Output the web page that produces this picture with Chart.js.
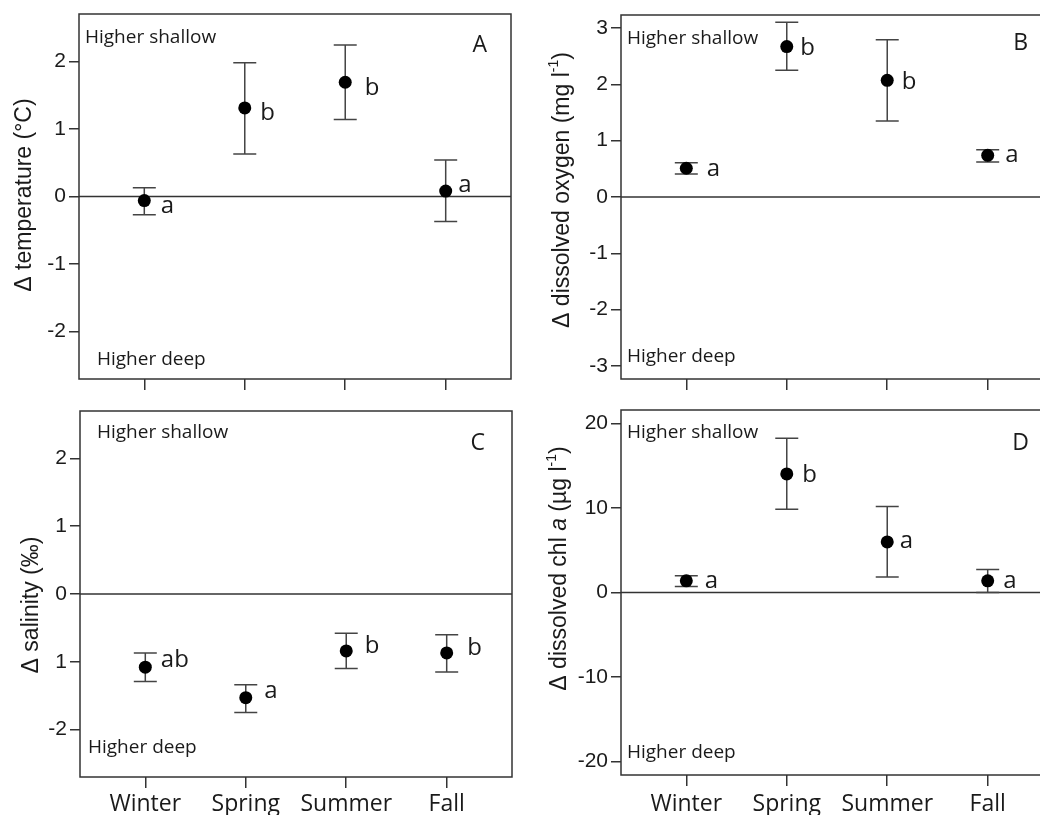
<!DOCTYPE html>
<html><head><meta charset="utf-8">
<script src="https://cdn.jsdelivr.net/npm/chart.js@4.4.1/dist/chart.umd.min.js"></script>
<style>
html,body{margin:0;padding:0;background:#fff;overflow:hidden;width:1040px;height:815px;}
#wrap{position:relative;width:1040px;height:815px;overflow:hidden;background:#fff;}
canvas{position:absolute;}
</style></head><body><div id="wrap">
<canvas id="cA" width="520" height="415" style="left:0;top:-10px"></canvas>
<canvas id="cB" width="540" height="415" style="left:520px;top:-10px"></canvas>
<canvas id="cC" width="520" height="450" style="left:0;top:385px"></canvas>
<canvas id="cD" width="540" height="450" style="left:520px;top:385px"></canvas>
</div>
<script>
// ---- data ----
const categories = ['Winter', 'Spring', 'Summer', 'Fall'];

const tempMean = [-0.06, 1.31, 1.69, 0.08];
const tempLow  = [-0.27, 0.63, 1.14, -0.37];
const tempHigh = [0.13, 1.98, 2.24, 0.54];
const tempLetters = ['a', 'b', 'b', 'a'];
const tempTicks = [-2, -1, 0, 1, 2];
const tempTickLabels = ['-2', '-1', '0', '1', '2'];

const oxyMean = [0.51, 2.67, 2.07, 0.74];
const oxyLow  = [0.41, 2.25, 1.35, 0.62];
const oxyHigh = [0.61, 3.10, 2.79, 0.84];
const oxyLetters = ['a', 'b', 'b', 'a'];
const oxyTicks = [-3, -2, -1, 0, 1, 2, 3];
const oxyTickLabels = ['-3', '-2', '-1', '0', '1', '2', '3'];

const salMean = [-1.08, -1.53, -0.84, -0.87];
const salLow  = [-1.29, -1.75, -1.10, -1.15];
const salHigh = [-0.87, -1.34, -0.58, -0.60];
const salLetters = ['ab', 'a', 'b', 'b'];
const salTicks = [-2, -1, 0, 1, 2];
const salTickLabels = ['-2', '1', '0', '1', '2'];

const chlMean = [1.38, 14.03, 5.99, 1.38];
const chlLow  = [0.71, 9.86, 1.82, 0.00];
const chlHigh = [1.97, 18.25, 10.17, 2.72];
const chlLetters = ['a', 'b', 'a', 'a'];
const chlTicks = [-20, -10, 0, 10, 20];
const chlTickLabels = ['-20', '-10', '0', '10', '20'];

const shallowText = 'Higher shallow';
const deepText = 'Higher deep';

// ---- drawing helpers ----
const INK = '#1a1a1a';
const LINE = '#333';
function segFont(s){ return (s.it ? 'italic ' : '') + (s.sup ? '14px' : '23px') + ' "Liberation Sans", Arial, sans-serif'; }
function drawTitle(ctx, segs, cx, cy){
  ctx.save();
  ctx.translate(cx, cy);
  ctx.rotate(-Math.PI / 2);
  let total = 0;
  const ws = segs.map(s => { ctx.font = segFont(s); const w = ctx.measureText(s.t).width; total += w; return w; });
  let xx = -total / 2;
  ctx.textBaseline = 'middle'; ctx.textAlign = 'left'; ctx.fillStyle = INK;
  segs.forEach((s, i) => { ctx.font = segFont(s); ctx.fillText(s.t, xx, s.sup ? -8 : 0); xx += ws[i]; });
  ctx.restore();
}

function makeDeco(cfg){
  return {
    id: 'deco' + cfg.id,
    beforeDatasetsDraw(chart){
      const {ctx, chartArea: a, scales: {x, y}} = chart;
      ctx.save();
      const y0 = y.getPixelForValue(0);
      ctx.strokeStyle = LINE; ctx.lineWidth = 1.5;
      ctx.beginPath(); ctx.moveTo(a.left, y0); ctx.lineTo(a.right, y0); ctx.stroke();
      ctx.strokeStyle = '#444'; ctx.lineWidth = 1.5;
      cfg.low.forEach((lo, i) => {
        const px = x.getPixelForValue(i + 1);
        const pl = y.getPixelForValue(lo), ph = y.getPixelForValue(cfg.high[i]);
        ctx.beginPath();
        ctx.moveTo(px, pl); ctx.lineTo(px, ph);
        ctx.moveTo(px - 11.5, pl); ctx.lineTo(px + 11.5, pl);
        ctx.moveTo(px - 11.5, ph); ctx.lineTo(px + 11.5, ph);
        ctx.stroke();
      });
      ctx.restore();
    },
    afterDraw(chart){
      const {ctx, chartArea: a, scales: {x, y}} = chart;
      ctx.save();
      ctx.strokeStyle = LINE; ctx.lineWidth = 1.5;
      ctx.strokeRect(a.left, a.top, a.right - a.left, a.bottom - a.top);
      ctx.fillStyle = INK;
      ctx.textBaseline = 'alphabetic';
      ctx.textAlign = 'left';
      ctx.font = '19px "Open Sans", sans-serif';
      ctx.fillText(shallowText, a.left + cfg.hs[0], a.top + cfg.hs[1]);
      ctx.fillText(deepText, a.left + cfg.hd[0], a.bottom - cfg.hd[1]);
      ctx.font = '23px "Open Sans", sans-serif';
      ctx.textAlign = 'right';
      ctx.fillText(cfg.panel, a.right - cfg.pl[0], a.top + cfg.pl[1]);
      ctx.textAlign = 'left';
      ctx.font = '24px "Open Sans", sans-serif';
      cfg.letters.forEach((t, i) => {
        const px = x.getPixelForValue(i + 1), py = y.getPixelForValue(cfg.mean[i]);
        ctx.fillText(t, px + cfg.ldx[i] - 1.5, py + cfg.ldy[i]);
      });
      ctx.restore();
      drawTitle(ctx, cfg.title, cfg.tc[0], cfg.tc[1]);
    }
  };
}

function makePanel(cfg){
  const el = document.getElementById(cfg.id);
  const pts = cfg.mean.map((m, i) => ({x: i + 1, y: m}));
  new Chart(el, {
    type: 'scatter',
    data: {datasets: [{data: pts, pointRadius: 6.5, pointHoverRadius: 6.5, pointBackgroundColor: '#000', pointBorderColor: '#000', pointBorderWidth: 0}]},
    options: {
      responsive: false, animation: false, devicePixelRatio: 1, events: [],
      layout: {padding: {top: cfg.padTop, right: cfg.padRight, left: 0, bottom: 0}},
      plugins: {legend: {display: false}, tooltip: {enabled: false}},
      scales: {
        x: {
          type: 'linear', min: 0.35, max: 4.65,
          afterBuildTicks: s => { s.ticks = categories.map((c, i) => ({value: i + 1})); },
          afterFit: s => { s.height = cfg.xHeight; },
          ticks: {display: cfg.showX, callback: v => categories[Math.round(v) - 1] || '', font: {family: '"Open Sans", sans-serif', size: 23}, color: INK, padding: cfg.xPad, maxRotation: 0, autoSkip: false},
          grid: {drawOnChartArea: false, drawTicks: true, tickLength: 11, color: LINE, lineWidth: 1.5},
          border: {display: false}
        },
        y: {
          type: 'linear', min: cfg.yMin, max: cfg.yMax,
          afterBuildTicks: s => { s.ticks = cfg.ticks.map(v => ({value: v})); },
          afterFit: s => { s.width = cfg.yWidth; },
          ticks: {callback: (v, i) => cfg.tickLabels[i], font: {family: '"Liberation Sans", Arial, sans-serif', size: 21}, color: INK, padding: 3, autoSkip: false},
          grid: {drawOnChartArea: false, drawTicks: true, tickLength: 10, color: LINE, lineWidth: 1.5},
          border: {display: false}
        }
      }
    },
    plugins: [makeDeco(cfg)]
  });
}

makePanel({id: 'cA', panel: 'A', mean: tempMean, low: tempLow, high: tempHigh, letters: tempLetters,
  ticks: tempTicks, tickLabels: tempTickLabels, yMin: -2.7, yMax: 2.7,
  padTop: 24, padRight: 9, yWidth: 79, xHeight: 26, showX: false, xPad: 3,
  hs: [6, 29], hd: [18, 14], pl: [24, 38],
  ldx: [18, 17, 21, 14], ldy: [12, 12, 13, 1],
  title: [{t: 'Δ temperature (°C)'}], tc: [25, 205]});

makePanel({id: 'cB', panel: 'B', mean: oxyMean, low: oxyLow, high: oxyHigh, letters: oxyLetters,
  ticks: oxyTicks, tickLabels: oxyTickLabels, yMin: -3.23, yMax: 3.23,
  padTop: 25, padRight: 7, yWidth: 101, xHeight: 26, showX: false, xPad: 3,
  hs: [6, 29], hd: [6, 17], pl: [25, 35],
  ldx: [22, 15, 16, 19], ldy: [8, 8, 9, 7],
  title: [{t: 'Δ dissolved oxygen (mg l'}, {t: '-1', sup: true}, {t: ')'}], tc: [42.5, 200]});

makePanel({id: 'cC', panel: 'C', mean: salMean, low: salLow, high: salHigh, letters: salLetters,
  ticks: salTicks, tickLabels: salTickLabels, yMin: -2.7, yMax: 2.7,
  padTop: 26, padRight: 8, yWidth: 80, xHeight: 58, showX: true, xPad: 3,
  hs: [17, 27], hd: [8, 24], pl: [27, 39],
  ldx: [17, 20, 20, 22], ldy: [0, 0, 2, 2],
  title: [{t: 'Δ salinity (‰)'}], tc: [32, 220]});

makePanel({id: 'cD', panel: 'D', mean: chlMean, low: chlLow, high: chlHigh, letters: chlLetters,
  ticks: chlTicks, tickLabels: chlTickLabels, yMin: -21.6, yMax: 21.6,
  padTop: 25, padRight: 7, yWidth: 101, xHeight: 60, showX: true, xPad: 5,
  hs: [6, 28], hd: [6, 17], pl: [24, 40],
  ldx: [20, 17, 14, 17], ldy: [7, 8, 6, 7],
  title: [{t: 'Δ dissolved chl '}, {t: 'a', it: true}, {t: ' (µg l'}, {t: '-1', sup: true}, {t: ')'}], tc: [40, 183.5]});
</script>
</body></html>
